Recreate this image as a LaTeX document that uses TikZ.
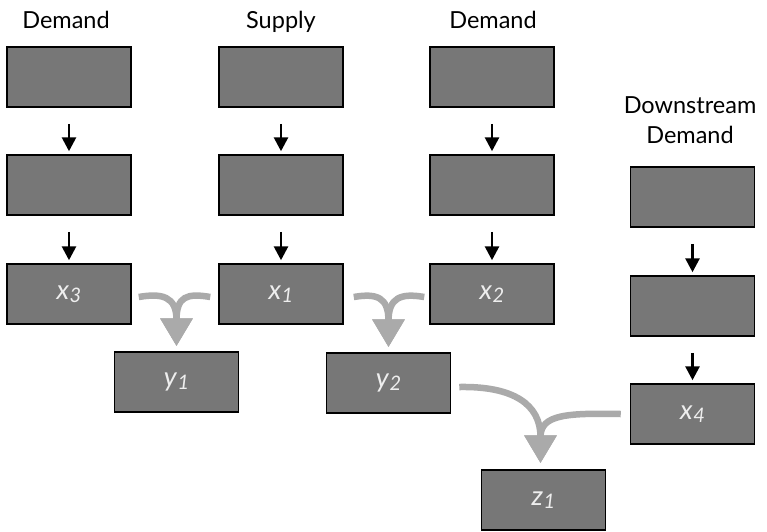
\documentclass[tikz,border=0pt]{standalone}
\usepackage{fontspec}
\setmainfont{Lato}
\usetikzlibrary{arrows.meta,calc}
\definecolor{boxgray}{HTML}{777777}
\definecolor{arrgray}{HTML}{AAAAAA}
\definecolor{labgray}{HTML}{EEEEEE}
\newcommand{\varlab}[2]{\textit{#1}\kern0.5pt\raisebox{-3pt}{\fontsize{20}{20}\selectfont\textit{#2}}}
\tikzset{
 box/.style={draw=black, line width=1.5pt, fill=boxgray, minimum width=124pt, minimum height=60pt, inner sep=0pt, text=labgray, font=\fontsize{27}{27}\selectfont},
 title/.style={anchor=base, font=\fontsize{23.5}{23.5}\selectfont, inner sep=0pt},
 blackarrow/.style={line width=2.8pt, -{Triangle[width=14pt,length=14pt]}},
 grayarrow/.style={line width=6.5pt, draw=arrgray, -{Triangle[width=31pt,length=28pt]}},
}
\begin{document}
\begin{tikzpicture}[x=1pt,y=-1pt]
\useasboundingbox (0,0) rectangle (767,531);
% titles
\node[title] (t1) at (66,28) {Demand};
\node[title] (t2) at (281,28) {Supply};
\node[title] (t3) at (493,28) {Demand};
\node[title] (t4a) at (690,113) {Downstream};
\node[title] (t4b) at (690,143) {Demand};
% column 1
\node[box] (d1) at (69,77) {};
\node[box] (d2) at (69,185) {};
\node[box] (x3) at (69,294) {\varlab{x}{3}};
% column 2
\node[box] (s1) at (281,77) {};
\node[box] (s2) at (281,185) {};
\node[box] (x1) at (281,294) {\varlab{x}{1}};
% column 3
\node[box] (e1) at (492,77) {};
\node[box] (e2) at (492,185) {};
\node[box] (x2) at (492,294) {\varlab{x}{2}};
% column 4
\node[box] (w1) at (692.5,197) {};
\node[box] (w2) at (692.5,306) {};
\node[box] (x4) at (692.5,414) {\varlab{x}{4}};
% lower boxes
\node[box] (y1) at (176.5,382) {\varlab{y}{1}};
\node[box] (y2) at (388.5,383) {\varlab{y}{2}};
\node[box] (z1) at (543.5,500) {\varlab{z}{1}};
% black arrows
\foreach \a/\b in {d1/d2,d2/x3,s1/s2,s2/x1,e1/e2,e2/x2,w1/w2,w2/x4}{
  \draw[blackarrow] ($(\a.south)+(0,16)$) -- ($(\b.north)+(0,-3)$);
}
% gray merge arrows
\draw[grayarrow] ($(x3.east)+(7,3)$) .. controls ($(x3.east)+(30,-1)$) and ($(y1.north)+(0,-55)$) .. ($(y1.north)+(0,-5)$);
\draw[grayarrow] ($(x1.west)+(-8,3)$) .. controls ($(x1.west)+(-31,-1)$) and ($(y1.north)+(0,-55)$) .. ($(y1.north)+(0,-5)$);
\draw[grayarrow] ($(x1.east)+(10,3)$) .. controls ($(x1.east)+(33,-1)$) and ($(y2.north)+(0,-55)$) .. ($(y2.north)+(0,-5)$);
\draw[grayarrow] ($(x2.west)+(-5,3)$) .. controls ($(x2.west)+(-28,-1)$) and ($(y2.north)+(0,-55)$) .. ($(y2.north)+(0,-5)$);
\draw[grayarrow] ($(y2.east)+(8,4)$) .. controls ($(y2.east)+(62,3)$) and ($(z1.north)+(-3,-65)$) .. ($(z1.north)+(-3,-6)$);
\draw[grayarrow] ($(x4.west)+(-9,0)$) .. controls ($(x4.west)+(-62,-1)$) and ($(z1.north)+(-3,-55)$) .. ($(z1.north)+(-3,-6)$);
\end{tikzpicture}
\end{document}
